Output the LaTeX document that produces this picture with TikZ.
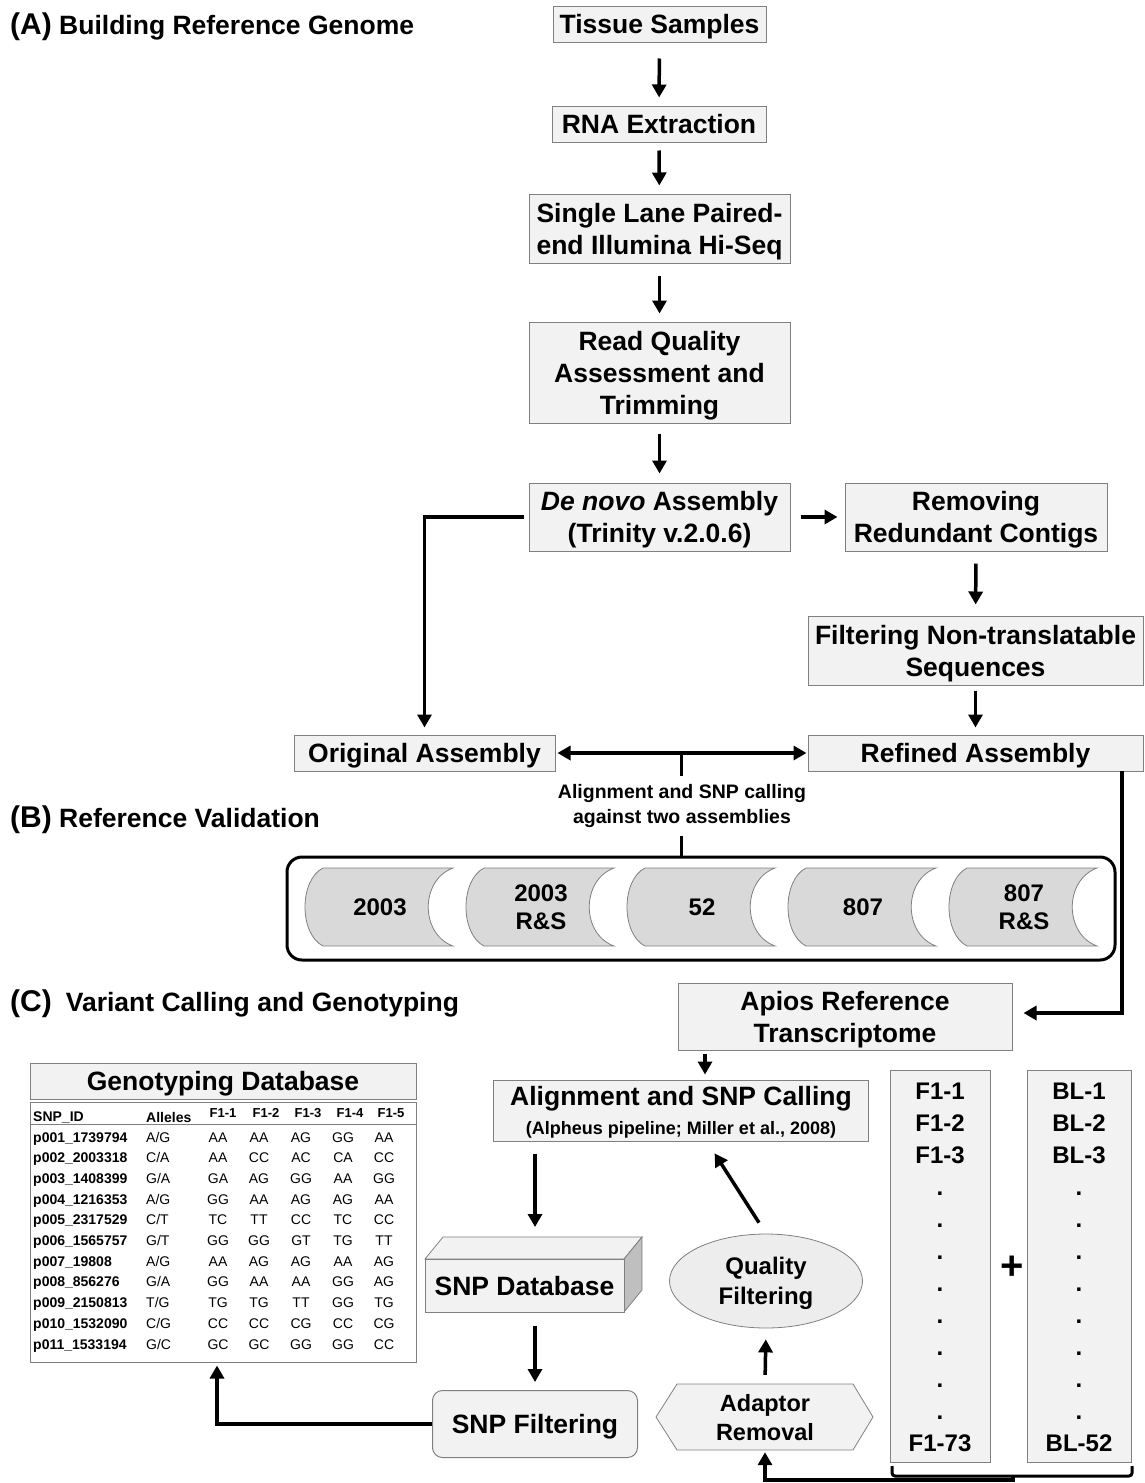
\documentclass[tikz,border=0pt]{standalone}
\usepackage{fontspec}
\setmainfont{Liberation Sans}
\usetikzlibrary{arrows.meta,shapes.geometric,calc}
\definecolor{boxfill}{HTML}{F2F2F2}
\definecolor{boxline}{HTML}{808080}
\definecolor{cylfill}{HTML}{D9D9D9}
\definecolor{ellfill}{HTML}{EDEDED}
\definecolor{sidefill}{HTML}{BFBFBF}
\newcommand{\fsz}[2]{\fontsize{#1}{#2}\selectfont}
\begin{document}
\begin{tikzpicture}[x=1pt,y=-1pt,
  box/.style={draw=boxline, fill=boxfill, line width=1pt, inner sep=0pt, text depth=0pt, align=center, font={\fsz{26.5}{32}\bfseries}},
  arr/.style={line width=3.5pt, -{Triangle[length=13pt,width=14pt]}},
  darr/.style={line width=3.5pt, {Triangle[length=13pt,width=14pt]}-{Triangle[length=13pt,width=14pt]}},
  plain/.style={line width=3.5pt},
  head/.style={anchor=west, inner sep=0pt, text depth=0pt, font={\fsz{26.5}{32}\bfseries}},
  cyltext/.style={align=center, inner sep=0pt, text depth=0pt, font={\fsz{24}{28}\bfseries}},
  cylshape/.style={fill=cylfill, draw=boxline, line width=0.8pt},
  tid/.style={anchor=base west, inner sep=0pt, font={\fsz{14}{16}\bfseries}},
  tgt/.style={anchor=base, inner sep=0pt, font={\fsz{14}{16}}},
  coltext/.style={anchor=base, inner sep=0pt, font={\fsz{24}{28}\bfseries}}
]
\useasboundingbox (0,0) rectangle (1144,1483);

% ---------------- headings
\node[head] (hA) at (10,24) {{\fsz{30}{30}(A)} Building Reference Genome};
\node[head] (hB) at (10,817) {{\fsz{30}{30}(B)} Reference Validation};
\node[head] (hC) at (10,1001) {{\fsz{30}{30}(C)}\hspace{14pt}Variant Calling and Genotyping};

% ---------------- (A)
\node[box, minimum width=213, minimum height=36] (ts) at (659.5,24) {Tissue Samples};
\node[box, minimum width=214, minimum height=36] (rna) at (659,124) {RNA Extraction};
\node[box, minimum width=261, minimum height=69] (slp) at (659.5,228.5) {Single Lane Paired-\\end Illumina Hi-Seq};
\node[box, minimum width=261, minimum height=101] (rqa) at (659.5,372.5) {Read Quality\\Assessment and\\Trimming};
\node[box, minimum width=261, minimum height=68] (dna) at (659.5,517) {\textit{De novo} Assembly\\(Trinity v.2.0.6)};
\node[box, minimum width=262, minimum height=68] (rrc) at (976,517) {Removing\\Redundant Contigs};
\node[box, minimum width=335, minimum height=69] (fnt) at (975.5,650.5) {Filtering Non-translatable\\Sequences};
\node[box, minimum width=335, minimum height=36] (ref) at (975.5,753) {Refined Assembly};
\node[box, minimum width=261, minimum height=36] (org) at (424.5,753) {Original Assembly};

\draw[arr, shorten <=16pt, shorten >=8pt] (ts) -- (rna);
\draw[arr, shorten <=8pt, shorten >=8pt] (rna) -- (slp);
\draw[arr, shorten <=12pt, shorten >=8pt] (slp) -- (rqa);
\draw[arr, shorten <=10pt, shorten >=9pt] (rqa) -- (dna);
\draw[arr, shorten <=10pt, shorten >=7pt] (dna) -- (rrc);
\draw[arr, shorten <=12pt, shorten >=11pt] (rrc) -- (fnt);
\draw[arr, shorten <=5pt, shorten >=7pt] (fnt) -- (ref);
\draw[arr, shorten <=5pt, shorten >=7pt] (dna.west) -| (org.north);
\draw[darr, shorten <=2pt, shorten >=1pt] (org) -- (ref);

% ---------------- (B)
\coordinate (mid) at ($(org.east)!0.5!(ref.west)$);
\node[align=center, inner xsep=0pt, inner ysep=8pt, font={\fsz{19.5}{25}\bfseries}] (lbl) at (682,806) {Alignment and SNP calling\\against two assemblies};
\node[draw, line width=3pt, rounded corners=15pt, minimum width=828, minimum height=103, inner sep=0pt] (cont) at (701,908.5) {};
\draw[plain] (mid) -- (mid |- lbl.north);
\draw[plain] (lbl.south -| mid) -- (cont.north -| mid);

\foreach \L/\txt [count=\i] in {305/2003, 466/{2003\\R\&S}, 627/52, 788/807, 949/{807\\R\&S}} {
  \path[cylshape] (\L+18,868) -- (\L+148,868)
     .. controls (\L+115,880) and (\L+115,934) .. (\L+148,946)
     -- (\L+18,946)
     .. controls (\L-6,934) and (\L-6,880) .. (\L+18,868) -- cycle;
  \node[cyltext] (cyl\i) at (\L+75,907) {\txt};
}

% ---------------- (C)
\node[box, minimum width=334, minimum height=67] (apr) at (845,1016.5) {Apios Reference\\Transcriptome};
\coordinate (rr) at (1122,771);
\draw[arr, shorten >=11pt] (rr) |- ([yshift=3.5pt]apr.east);

\node[box, minimum width=375, minimum height=61] (asc) at (681,1110.5) {Alignment and SNP Calling\\[-3pt]{\fsz{18}{22}(Alpheus pipeline; Miller et al., 2008)}};
\draw[arr, shorten <=3pt, shorten >=5pt] ([xshift=-140pt]apr.south) -- ([xshift=24pt]asc.north);

% Genotyping database
\node[box, minimum width=386, minimum height=36] (gdb) at (223,1081) {Genotyping Database};
\node[draw=boxline, fill=white, line width=1pt, minimum width=386, minimum height=260, inner sep=0pt] (tbl) at (223,1232) {};
\draw[boxline, line width=0.8pt] (30,1124) -- (416,1124);
\node[tid] (hid) at (33,1121) {SNP\_ID};
\node[tid] (hal) at (146,1122) {Alleles};
\foreach \h/\x in {F1-1/223, F1-2/266, F1-3/308, F1-4/350, F1-5/391}
  \node[anchor=base, inner sep=0pt, font={\fsz{13}{15}\bfseries}] at (\x,1117) {\h};
\newcommand{\grow}[8]{%
  \node[tid] (id#1) at (33,{1142+20.7*(#1-1)}) {#2};
  \node[tgt, anchor=base west] (al#1) at (146,{1142+20.7*(#1-1)}) {#3};
  \node[tgt] at (218,{1142+20.7*(#1-1)}) {#4};
  \node[tgt] at (259,{1142+20.7*(#1-1)}) {#5};
  \node[tgt] at (301,{1142+20.7*(#1-1)}) {#6};
  \node[tgt] at (343,{1142+20.7*(#1-1)}) {#7};
  \node[tgt] at (384,{1142+20.7*(#1-1)}) {#8};}
\grow{1}{p001\_1739794}{A/G}{AA}{AA}{AG}{GG}{AA}
\grow{2}{p002\_2003318}{C/A}{AA}{CC}{AC}{CA}{CC}
\grow{3}{p003\_1408399}{G/A}{GA}{AG}{GG}{AA}{GG}
\grow{4}{p004\_1216353}{A/G}{GG}{AA}{AG}{AG}{AA}
\grow{5}{p005\_2317529}{C/T}{TC}{TT}{CC}{TC}{CC}
\grow{6}{p006\_1565757}{G/T}{GG}{GG}{GT}{TG}{TT}
\grow{7}{p007\_19808}{A/G}{AA}{AG}{AG}{AA}{AG}
\grow{8}{p008\_856276}{G/A}{GG}{AA}{AA}{GG}{AG}
\grow{9}{p009\_2150813}{T/G}{TG}{TG}{TT}{GG}{TG}
\grow{10}{p010\_1532090}{C/G}{CC}{CC}{CG}{CC}{CG}
\grow{11}{p011\_1533194}{G/C}{GC}{GC}{GG}{GG}{CC}

% SNP database (3D box)
\path[fill=boxfill, draw=boxline, line width=0.8pt] (425,1259) -- (443,1237) -- (642,1237) -- (624,1259) -- cycle;
\path[fill=sidefill, draw=boxline, line width=0.8pt] (624,1259) -- (642,1237) -- (642,1290) -- (624,1312) -- cycle;
\node[box, minimum width=199, minimum height=53] (sdb) at (524.5,1285.5) {SNP Database};
\coordinate (dbtop) at (535,1237);

\node[box, rounded corners=10pt, minimum width=205, minimum height=67] (snpf) at (535,1424) {SNP Filtering};
\draw[arr, shorten <=12pt, shorten >=10pt] (asc.south -| dbtop) -- (dbtop);
\draw[arr, shorten <=13pt, shorten >=8pt] (sdb.south -| snpf.north) -- (snpf.north);
\draw[arr, shorten >=3pt] (snpf.west) -| ([xshift=-6pt]tbl.south);

% Quality filtering & adaptor removal
\node[ellipse, draw=boxline, fill=ellfill, line width=0.8pt, minimum width=193, minimum height=94, inner sep=0pt, text depth=0pt, align=center, font={\fsz{24}{30}\bfseries}] (qf) at (766,1281) {Quality\\Filtering};
\path[fill=boxfill, draw=boxline, line width=0.8pt] (656,1417) -- (677,1384) -- (853,1384) -- (873,1417) -- (853,1450) -- (677,1450) -- cycle;
\node[inner sep=0pt, minimum width=176, minimum height=66, text depth=0pt, align=center, font={\fsz{23.5}{29}\bfseries}] (adr) at (765,1417) {Adaptor\\Removal};
\draw[arr, shorten <=9pt, shorten >=11pt] (adr.north) -- (qf.south);
\draw[arr, shorten <=13pt, shorten >=14pt] (qf.north) -- ([xshift=26pt]asc.south);

% sample columns
\node[draw=boxline, fill=boxfill, line width=0.8pt, minimum width=100, minimum height=392, inner sep=0pt] (f1col) at (940,1266) {};
\node[draw=boxline, fill=boxfill, line width=0.8pt, minimum width=104, minimum height=392, inner sep=0pt] (blcol) at (1079,1266) {};
\foreach \t [count=\k from 0] in {F1-1,F1-2,F1-3,.,.,.,.,.,.,.,.,F1-73}
  \node[coltext] (f\k) at (940,{1099+32*\k}) {\t};
\foreach \t [count=\k from 0] in {BL-1,BL-2,BL-3,.,.,.,.,.,.,.,.,BL-52}
  \node[coltext] (b\k) at (1079,{1099+32*\k}) {\t};
\node[inner sep=0pt, font={\fsz{40}{40}\bfseries}] (plus) at (1012,1268) {+};

% bracket
\draw[line width=3pt, rounded corners=3pt] (892,1466) |- (1013,1476) -| (1132,1466);
\coordinate (bc) at (1013,1476);
\draw[arr, shorten >=2pt] (bc) -- (1013,1480) -| (adr.south);
\end{tikzpicture}
\end{document}
